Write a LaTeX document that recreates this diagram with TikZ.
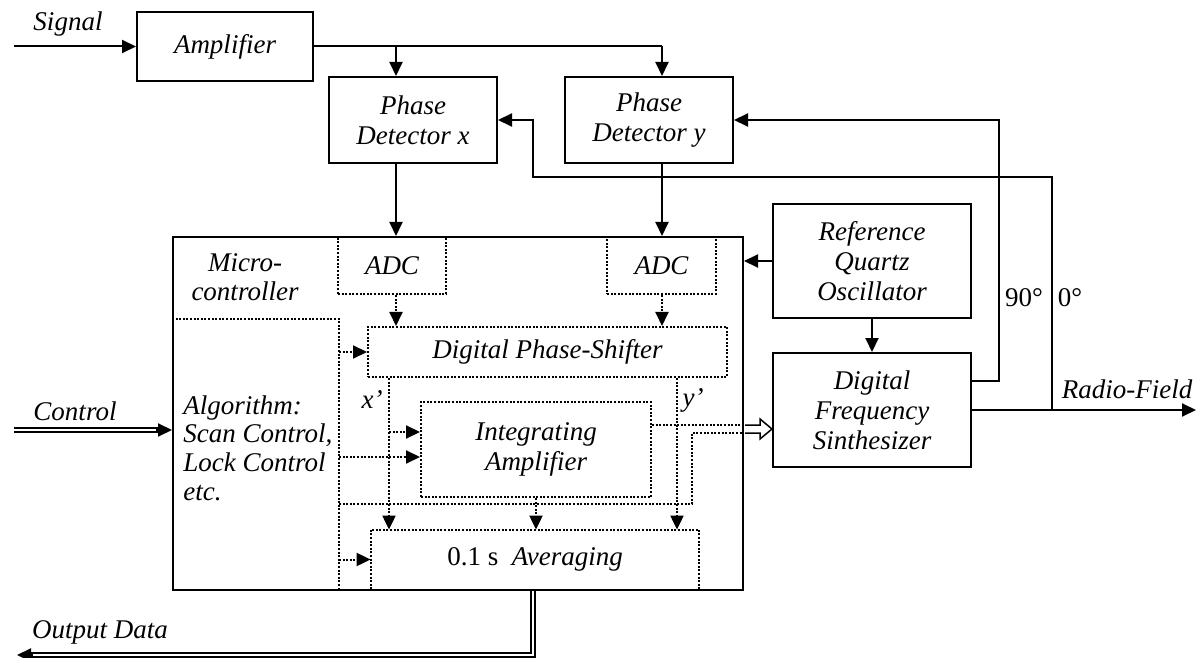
\documentclass[tikz,border=0pt]{standalone}
\usepackage{fontspec}
\setmainfont{Liberation Serif}
\usetikzlibrary{arrows.meta,calc}
\begin{document}
\begin{tikzpicture}[x=0.5pt,y=-0.5pt,
  every node/.style={font=\fontsize{13.5pt}{15pt}\selectfont\itshape},
  blk/.style={draw, line width=1pt, inner sep=0pt, align=center},
  dblk/.style={draw, line width=1pt, dash pattern=on 1pt off 0.8pt, inner sep=0pt, align=center},
  arr/.style={line width=1pt, -{Triangle[length=7pt,width=6.5pt]}},
  ln/.style={line width=1pt},
  dln/.style={line width=1pt, dash pattern=on 1pt off 0.8pt},
  darr/.style={dln, -{Triangle[length=7pt,width=6.5pt]}},
  lbl/.style={inner sep=0pt},
  dbl/.style={double, double distance=1.2pt, line width=0.75pt}
]
\useasboundingbox (0,0) rectangle (1196,658);

% blocks
\node[blk, minimum width=88pt, minimum height=34.5pt] (amp) at (225,46.5) {Amplifier};
\node[blk, minimum width=84pt, minimum height=43pt] (pdx) at (413,120) {Phase\\Detector x};
\node[blk, minimum width=84pt, minimum height=43pt] (pdy) at (649,120) {Phase\\Detector y};
\node[blk, minimum width=99pt, minimum height=57pt] (rqo) at (872,261) {Reference\\Quartz\\Oscillator};
\node[blk, minimum width=99pt, minimum height=57pt] (dfs) at (872,410) {Digital\\Frequency\\Sinthesizer};
\node[blk, minimum width=285pt, minimum height=176.5pt] (mc) at (458,413.5) {};
\node[dblk, minimum width=54pt, minimum height=28.5pt] (adcx) at (392,265.5) {ADC};
\node[dblk, minimum width=54.5pt, minimum height=28.5pt] (adcy) at (661.5,265.5) {ADC};
\node[dblk, minimum width=179.5pt, minimum height=25pt] (dps) at (547.5,352) {Digital Phase-Shifter};
\node[dblk, minimum width=115pt, minimum height=47.5pt] (ia) at (536,449.5) {Integrating\\Amplifier};
\node[inner sep=0pt, minimum width=164pt, minimum height=29.5pt] (avg) at (535,559.5) {{\upshape 0.1 s}\ \ Averaging};

% texts
\node[lbl, align=center, font=\fontsize{13.5pt}{14.3pt}\selectfont\itshape] (mct) at (245,277) {Micro-\\controller};
\node[lbl, anchor=west, align=left, font=\fontsize{13.5pt}{14.3pt}\selectfont\itshape] (alg) at (183,448) {Algorithm:\\Scan Control,\\Lock Control\\etc.};
\node[lbl] (sig) at (68,24) {Signal};
\node[lbl] (ctl) at (75,411) {Control};
\node[lbl] (out) at (100,632) {Output Data};
\node[lbl] (rf) at (1127,389) {Radio-Field};
\node[lbl, font=\fontsize{13.5pt}{15pt}\selectfont\upshape] (d90) at (1024,298) {90°};
\node[lbl, font=\fontsize{13.5pt}{15pt}\selectfont\upshape] (d0) at (1070,298) {0°};
\node[lbl] (xpl) at (372,400) {x'};
\node[lbl] (ypl) at (693,400) {y'};

% coordinates
\coordinate (sigin) at (14,46.5);
\coordinate (xcol) at (396,0);
\coordinate (ycol) at (662,0);
\coordinate (c0) at (1052,0);
\coordinate (c90) at (999,0);
\coordinate (yfb) at (0,177);
\coordinate (xin) at (533,0);
\coordinate (rfend) at (1196,410);
\coordinate (ctlin) at (14,430);
\coordinate (outcol) at (533,0);
\coordinate (outend) at (17,655);
\coordinate (algtop) at (339,319);
\coordinate (xpc) at (389,0);
\coordinate (ypc) at (677,0);
\coordinate (ia1) at ([yshift=8.75pt]ia.west);
\coordinate (ia2) at ([yshift=-3.75pt]ia.west);
\coordinate (iaout) at ([yshift=12.25pt]ia.east);
\coordinate (bus) at (692,504);
\coordinate (busout) at (0,433);
\coordinate (o90) at ([yshift=14.5pt]dfs.east);

% solid connectors
\draw[arr] (sigin) -- (amp.west);
\draw[ln] (amp.east) -- (amp.east -| ycol);
\draw[arr] (amp.east -| ycol) -- (pdy.north -| ycol);
\draw[arr] (amp.east -| xcol) -- (pdx.north -| xcol);
\draw[arr] (pdx.south -| xcol) -- (mc.north -| xcol);
\draw[arr] (pdy.south -| ycol) -- (mc.north -| ycol);
\draw[arr] (dfs.east) -- (rfend);
\draw[arr] (dfs.east -| c0) -- (c0 |- yfb) -- (xin |- yfb) -- (xin |- pdx.east) -- (pdx.east);
\draw[arr] (o90) -- (o90 -| c90) -- (c90 |- pdy.east) -- (pdy.east);
\draw[arr] (rqo.west) -- (mc.east |- rqo.west);
\draw[arr] (rqo.south) -- (dfs.north);

% double connectors
\draw[dbl, shorten >=5pt] (ctlin) -- (mc.west |- ctlin);
\draw[arr] ($(mc.west |- ctlin)+(-16,0)$) -- (mc.west |- ctlin);
\draw[dbl, shorten >=5pt] (mc.south -| outcol) |- (outend);
\draw[arr] ($(outend)+(16,0)$) -- (outend);

% dotted internals
\draw[darr] (adcx.south -| xcol) -- (dps.north -| xcol);
\draw[darr] (adcy.south -| ycol) -- (dps.north -| ycol);
\draw[dln] (mc.west |- algtop) -- (algtop) -- (algtop |- mc.south);
\draw[darr] (algtop |- dps.west) -- (dps.west);
\draw[darr] (dps.south -| xpc) -- (avg.north -| xpc);
\draw[darr] (dps.south -| ypc) -- (avg.north -| ypc);
\draw[darr] (xpc |- ia1) -- (ia1);
\draw[darr] (algtop |- ia2) -- (ia2);
\draw[darr] (ia.south) -- (ia.south |- avg.north);
\draw[darr] (algtop |- avg.west) -- (avg.west);
\draw[dln] (avg.south west) -- (avg.north west) -- (avg.north east) -- (avg.south east);
\draw[dln] (algtop |- bus) -- (bus) -- (bus |- busout) -- (mc.east |- busout);
\draw[dln] (iaout) -- (mc.east |- iaout);

% hollow double arrow to synthesizer
\draw[line width=0.75pt, fill=white] ($(mc.east |- iaout)+(1,0)$) -- (760,425) -- (760,419) -- (dfs.west |- 0,429) -- (760,439) -- (760,433) -- ($(mc.east |- busout)+(1,0)$);
\end{tikzpicture}
\end{document}
